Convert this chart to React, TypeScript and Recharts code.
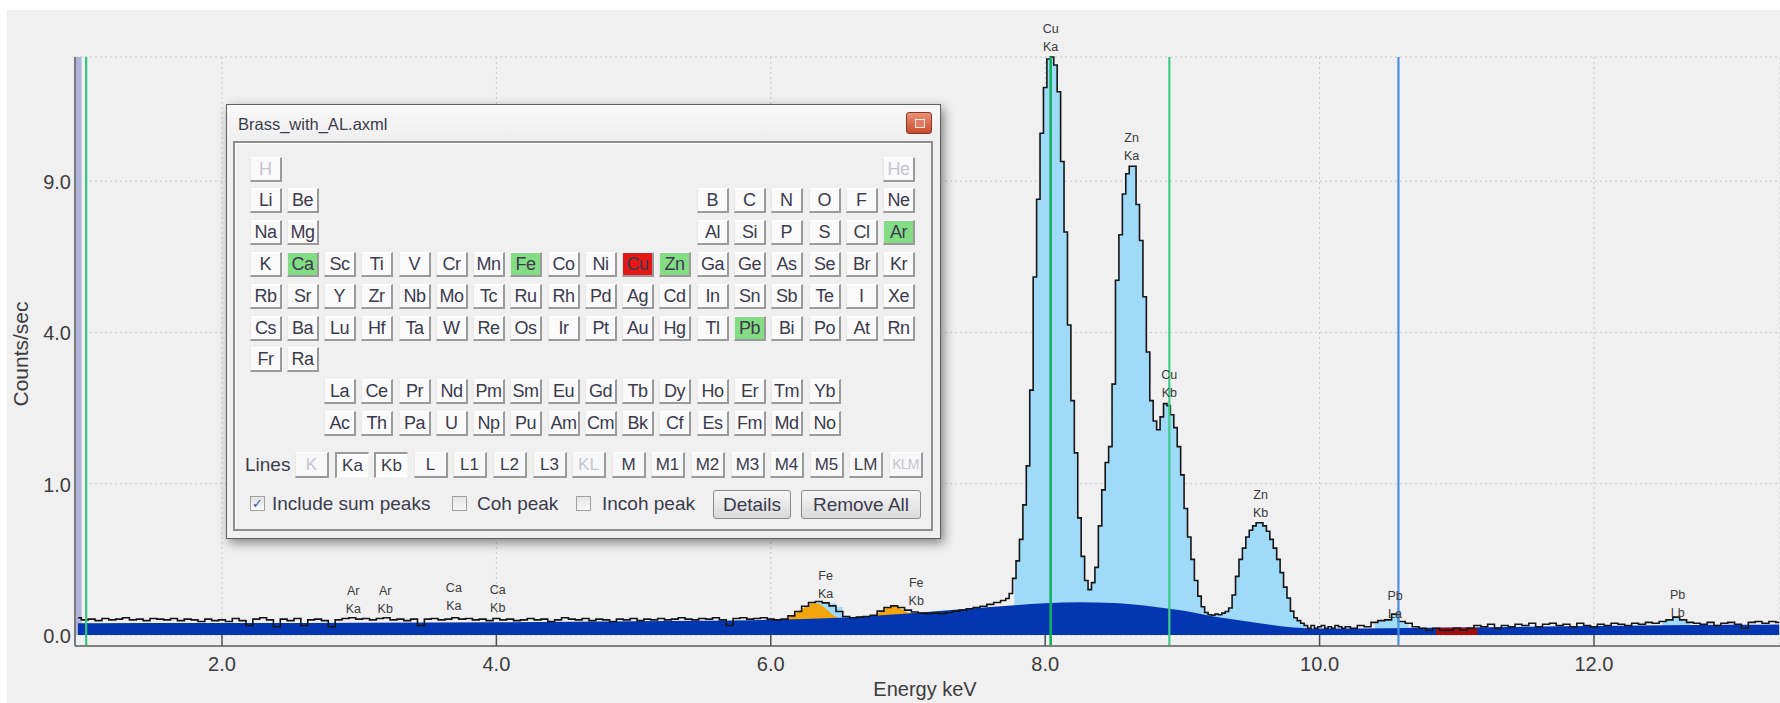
import React from "react";
import {
  Area,
  CartesianGrid,
  ComposedChart,
  Line,
  ReferenceArea,
  ReferenceLine,
  Scatter,
  XAxis,
  YAxis,
} from "recharts";

const lowStart = 0.95;
const lowStep = 0.05;
const lowCounts = [
  0.013, 0.010, 0.011, 0.009, 0.012, 0.010, 0.011, 0.013, 0.010, 0.011,
  0.009, 0.012, 0.011, 0.010, 0.012, 0.009, 0.011, 0.010, 0.008, 0.011,
  0.009, 0.010, 0.008, 0.012, 0.009, 0.004, 0.011, 0.013, 0.010, 0.003,
  0.011, 0.009, 0.012, 0.004, 0.010, 0.011, 0.009, 0.003, 0.010, 0.012,
  0.013, 0.011, 0.012, 0.010, 0.012, 0.013, 0.010, 0.011, 0.009, 0.011,
  0.004, 0.011, 0.012, 0.010, 0.011, 0.013, 0.011, 0.012, 0.010, 0.011,
  0.009, 0.012, 0.010, 0.011, 0.009, 0.010, 0.012, 0.010, 0.011, 0.008,
  0.010, 0.013, 0.011, 0.010, 0.012, 0.009, 0.011, 0.010, 0.008, 0.011,
  0.010, 0.012, 0.009, 0.011, 0.010, 0.012, 0.010, 0.011, 0.013, 0.011,
  0.010, 0.012, 0.011, 0.013, 0.010, 0.004, 0.012, 0.013, 0.011, 0.012,
  0.013, 0.011, 0.010, 0.011, 0.016, 0.024, 0.036, 0.046, 0.049, 0.045,
  0.037, 0.024, 0.015, 0.013, 0.014, 0.015, 0.017, 0.025, 0.033, 0.037,
  0.033, 0.027, 0.023, 0.021, 0.020, 0.021, 0.020, 0.022, 0.025, 0.027,
  0.030, 0.033, 0.036, 0.041, 0.046,
];

const peakStart = 7.7;
const peakStep = 0.025;
const peakCounts = [
  0.052, 0.058, 0.075, 0.14, 0.24, 0.40, 0.74, 1.25, 2.62, 5.6,
  8.3, 11.0, 13.1, 14.5, 14.6, 14.2, 12.9, 9.8, 7.1, 4.2,
  2.4, 1.45, 0.60, 0.27, 0.13, 0.09, 0.12, 0.20, 0.52, 0.92,
  1.30, 1.55, 2.75, 5.5, 7.0, 8.5, 9.3, 9.6, 9.6, 8.1,
  6.8, 5.0, 3.5, 2.4, 2.0, 1.84, 2.08, 2.34, 2.30, 2.12,
  1.88, 1.55, 1.12, 0.70, 0.42, 0.25, 0.13, 0.066, 0.035, 0.022,
  0.018, 0.017, 0.019, 0.018, 0.021, 0.024, 0.032, 0.07, 0.15, 0.25,
  0.33, 0.42, 0.48, 0.52, 0.55, 0.55, 0.52, 0.47, 0.40, 0.33,
  0.25, 0.17, 0.10, 0.06, 0.025, 0.013, 0.009, 0.006, 0.004, 0.002,
  0.004, 0.002, 0.003, 0.004, 0.002, 0.003, 0.002, 0.004, 0.003, 0.002,
];

const highStart = 10.2;
const highStep = 0.05;
const highCounts = [
  0.003, 0.002, 0.004, 0.003, 0.007, 0.009, 0.010, 0.019, 0.008, 0.006,
  0.003, 0.002, 0.001, 0.002, 0.001, 0.001, 0.002, 0.001, 0.002, 0.004,
  0.003, 0.005, 0.002, 0.004, 0.003, 0.005, 0.004, 0.006, 0.003, 0.005,
  0.006, 0.004, 0.005, 0.003, 0.006, 0.004, 0.003, 0.005, 0.004, 0.006,
  0.005, 0.004, 0.006, 0.005, 0.007, 0.006, 0.008, 0.010, 0.014, 0.010,
  0.007, 0.006, 0.005, 0.007, 0.004, 0.006, 0.007, 0.005, 0.002, 0.007,
  0.008, 0.006, 0.008, 0.007,
];

// continuum background (dark blue)
const bgEnergy = [0.95, 2, 3, 4, 5, 6, 6.5, 7, 7.5, 7.75, 8, 8.25, 8.5, 8.75, 9, 9.25, 9.5, 9.75, 10, 10.5, 11, 12, 13, 13.35];
const bgCounts = [0.006, 0.0062, 0.0065, 0.007, 0.0082, 0.01, 0.013, 0.02, 0.032, 0.038, 0.044, 0.047, 0.045, 0.037, 0.026, 0.014, 0.0075, 0.003, 0.0018, 0.002, 0.0024, 0.0035, 0.0045, 0.0048];

// Fe K fitted peaks (orange)
const feKaEnergy = [6.1, 6.15, 6.2, 6.25, 6.3, 6.35, 6.4, 6.45, 6.5];
const feKaTop = [0.0106, 0.015, 0.024, 0.035, 0.045, 0.043, 0.031, 0.018, 0.012];
const feKbEnergy = [6.75, 6.8, 6.85, 6.9, 6.95, 7.0, 7.05];
const feKbTop = [0.016, 0.024, 0.033, 0.036, 0.03, 0.022, 0.02];

// fit envelope (light blue)
const fitFeEnergy = [6.2, 6.25, 6.3, 6.35, 6.4, 6.45, 6.5, 6.55];
const fitFeTop = [0.02, 0.032, 0.043, 0.046, 0.046, 0.044, 0.034, 0.016];
const fitWindows = [
  [7.775, 9.9],
  [10.4, 10.65],
  [12.5, 12.7],
];

// small residual component (dark red)
const redEnergy = [10.85, 10.9, 10.95, 11.0, 11.05, 11.1, 11.15];
const redTop = [0.0021, 0.0023, 0.0023, 0.0024, 0.0023, 0.0023, 0.0021];

// peak labels
const peakLabels = [
  { e: 2.957, v: 0.011, el: "Ar", line: "Ka" },
  { e: 3.19, v: 0.011, el: "Ar", line: "Kb" },
  { e: 3.69, v: 0.016, el: "Ca", line: "Ka" },
  { e: 4.01, v: 0.012, el: "Ca", line: "Kb" },
  { e: 6.4, v: 0.042, el: "Fe", line: "Ka" },
  { e: 7.06, v: 0.025, el: "Fe", line: "Kb" },
  { e: 8.04, v: 14.6, el: "Cu", line: "Ka" },
  { e: 8.63, v: 9.6, el: "Zn", line: "Ka" },
  { e: 8.905, v: 2.36, el: "Cu", line: "Kb" },
  { e: 9.57, v: 0.55, el: "Zn", line: "Kb" },
  { e: 10.55, v: 0.0053, el: "Pb", line: "La" },
  { e: 12.61, v: 0.0063, el: "Pb", line: "Lb" },
];

const xTicks = [2, 4, 6, 8, 10, 12];
const yTicks = [0, 1, 4, 9];

// periodic table dialog
const tableRows = [
  "H . . . . . . . . . . . . . . . . He",
  "Li Be . . . . . . . . . . B C N O F Ne",
  "Na Mg . . . . . . . . . . Al Si P S Cl Ar",
  "K Ca Sc Ti V Cr Mn Fe Co Ni Cu Zn Ga Ge As Se Br Kr",
  "Rb Sr Y Zr Nb Mo Tc Ru Rh Pd Ag Cd In Sn Sb Te I Xe",
  "Cs Ba Lu Hf Ta W Re Os Ir Pt Au Hg Tl Pb Bi Po At Rn",
  "Fr Ra",
  ". . La Ce Pr Nd Pm Sm Eu Gd Tb Dy Ho Er Tm Yb",
  ". . Ac Th Pa U Np Pu Am Cm Bk Cf Es Fm Md No",
];
const greenElements = ["Ca", "Fe", "Zn", "Ar", "Pb"];
const redElements = ["Cu"];
const disabledElements = ["H", "He"];
const lineButtons = ["K", "Ka", "Kb", "L", "L1", "L2", "L3", "KL", "M", "M1", "M2", "M3", "M4", "M5", "LM", "KLM"];
const pressedLines = ["Ka", "Kb"];
const disabledLines = ["K", "KL", "KLM"];

const key = (e: number) => e.toFixed(3);

function buildRows() {
  const map = new Map<string, any>();
  const put = (e: number, k: string, v: number) => {
    const id = key(e);
    const row = map.get(id) ?? { e: Number(id) };
    row[k] = v;
    map.set(id, row);
  };
  lowCounts.forEach((v, i) => put(lowStart + i * lowStep, "counts", v));
  peakCounts.forEach((v, i) => put(peakStart + i * peakStep, "counts", v));
  highCounts.forEach((v, i) => put(highStart + i * highStep, "counts", v));
  bgEnergy.forEach((e, i) => put(e, "bg", bgCounts[i]));
  feKaEnergy.forEach((e, i) => put(e, "fe", feKaTop[i]));
  feKbEnergy.forEach((e, i) => put(e, "fe", feKbTop[i]));
  fitFeEnergy.forEach((e, i) => put(e, "fit", fitFeTop[i]));
  redEnergy.forEach((e, i) => put(e, "red", redTop[i]));
  const rows = Array.from(map.values()).sort((a, b) => a.e - b.e);
  rows.forEach((r) => {
    if (r.counts == null) return;
    if (fitWindows.some(([a, b]) => r.e >= a - 1e-6 && r.e <= b + 1e-6)) r.fit = r.counts;
  });
  return rows;
}

const chartData = buildRows();

const FONT = '"Liberation Sans", Arial, sans-serif';
const AXIS_TEXT = "#3c3c3c";

const XTick = (props: any) => {
  const { x, y, payload } = props;
  return (
    <g>
      <line x1={x} x2={x} y1={y - 11} y2={y} stroke="#505050" strokeWidth={1.5} />
      <text x={x} y={y + 25} textAnchor="middle" fontSize={20} fill={AXIS_TEXT} fontFamily={FONT}>
        {Number(payload.value).toFixed(1)}
      </text>
    </g>
  );
};

const YTick = (props: any) => {
  const { x, y, payload } = props;
  return (
    <text x={x - 4} y={y + 8} textAnchor="end" fontSize={20} fill={AXIS_TEXT} fontFamily={FONT}>
      {Number(payload.value).toFixed(1)}
    </text>
  );
};

const PeakLabel = (props: any) => {
  const { cx, cy, payload } = props;
  return (
    <g fontFamily={FONT} fontSize={12.5} fill="#3a3a3a" textAnchor="middle">
      <text x={cx} y={cy - 24}>{payload.el}</text>
      <text x={cx} y={cy - 6}>{payload.line}</text>
    </g>
  );
};

const DLG = { textColor: "#3b3b4c", font: FONT };

function elementButton(sym: string, left: number, top: number) {
  const green = greenElements.includes(sym);
  const red = redElements.includes(sym);
  const disabled = disabledElements.includes(sym);
  return (
    <div
      key={sym}
      style={{
        position: "absolute",
        left,
        top,
        width: 32,
        height: 25,
        boxSizing: "border-box",
        background: red ? "#e51616" : green ? "#84dc84" : "#fafafa",
        borderTop: "1px solid #ffffff",
        borderLeft: "1px solid #e8e8e8",
        borderRight: "2px solid #9a9a9a",
        borderBottom: "2px solid #9a9a9a",
        color: disabled ? "#c4c4d0" : DLG.textColor,
        fontFamily: DLG.font,
        fontSize: 18,
        lineHeight: "22px",
        letterSpacing: sym.length > 1 ? -0.5 : 0,
        textAlign: "center",
        whiteSpace: "nowrap",
        overflow: "hidden",
      }}
    >
      {sym}
    </div>
  );
}

function PeriodicDialog() {
  const buttons: React.ReactNode[] = [];
  tableRows.forEach((row, r) => {
    row.split(" ").forEach((sym, c) => {
      if (sym === ".") return;
      const cx = 265.6 + 37.26 * c;
      const cy = 169.1 + 31.8 * r;
      buttons.push(elementButton(sym, Math.round(cx - 16), Math.round(cy - 12.5)));
    });
  });
  const lines = lineButtons.map((name, i) => {
    const pressed = pressedLines.includes(name);
    const disabled = disabledLines.includes(name);
    return (
      <div
        key={"ln" + name}
        style={{
          position: "absolute",
          left: Math.round(295 + 39.6 * i),
          top: 452,
          width: 34,
          height: 26,
          boxSizing: "border-box",
          background: pressed ? "#fdfdfd" : "#f8f8f8",
          borderTop: pressed ? "2px solid #9a9a9a" : "1px solid #ffffff",
          borderLeft: pressed ? "2px solid #9a9a9a" : "1px solid #e8e8e8",
          borderRight: pressed ? "1px solid #f4f4f4" : "2px solid #9a9a9a",
          borderBottom: pressed ? "1px solid #f4f4f4" : "2px solid #9a9a9a",
          color: disabled ? "#c4c4d0" : DLG.textColor,
          fontFamily: DLG.font,
          fontSize: name.length > 2 ? 14 : 17,
          lineHeight: "23px",
          letterSpacing: name.length > 2 ? -0.8 : 0,
          textAlign: "center",
          whiteSpace: "nowrap",
          overflow: "hidden",
        }}
      >
        {name}
      </div>
    );
  });
  const text = (s: string, left: number, cy: number, size = 19) => (
    <div
      key={"t" + s}
      style={{
        position: "absolute",
        left,
        top: cy - 12,
        height: 24,
        lineHeight: "24px",
        fontFamily: DLG.font,
        fontSize: size,
        color: DLG.textColor,
        whiteSpace: "nowrap",
      }}
    >
      {s}
    </div>
  );
  const checkbox = (left: number, checked: boolean) => (
    <div
      key={"cb" + left}
      style={{
        position: "absolute",
        left,
        top: 496,
        width: 15,
        height: 15,
        boxSizing: "border-box",
        border: "1px solid #a0a0a0",
        background: "linear-gradient(#e4e4e4, #f8f8f8)",
        color: "#3552a8",
        fontSize: 13,
        lineHeight: "13px",
        textAlign: "center",
        fontFamily: '"DejaVu Sans", sans-serif',
      }}
    >
      {checked ? "✓" : ""}
    </div>
  );
  const pushButton = (s: string, left: number, width: number) => (
    <div
      key={"pb" + s}
      style={{
        position: "absolute",
        left,
        top: 490,
        width,
        height: 29,
        boxSizing: "border-box",
        border: "1px solid #8a8a8a",
        borderRadius: 3,
        background: "linear-gradient(#f6f6f6, #dadada)",
        fontFamily: DLG.font,
        fontSize: 19,
        lineHeight: "27px",
        textAlign: "center",
        color: DLG.textColor,
        whiteSpace: "nowrap",
      }}
    >
      {s}
    </div>
  );
  return (
    <>
      <div
        style={{
          position: "absolute",
          left: 226,
          top: 104,
          width: 715,
          height: 435,
          boxSizing: "border-box",
          border: "1px solid #5f5f5f",
          background: "linear-gradient(#f8f8f8 0px, #efefef 36px, #f0f0f0 100%)",
          boxShadow: "3px 4px 10px rgba(0,0,0,0.45)",
        }}
      />
      {text("Brass_with_AL.axml", 238, 124, 16.5)}
      <div
        style={{
          position: "absolute",
          left: 906,
          top: 112,
          width: 26,
          height: 22,
          boxSizing: "border-box",
          borderRadius: 3,
          border: "1px solid #8e3524",
          background: "linear-gradient(#ea9277, #c94a2e)",
        }}
      >
        <div
          style={{
            position: "absolute",
            left: 8,
            top: 6,
            width: 8,
            height: 7,
            border: "1px solid #f4e6e0",
            background: "#e07a60",
          }}
        />
      </div>
      <div
        style={{
          position: "absolute",
          left: 233,
          top: 141,
          width: 700,
          height: 390,
          boxSizing: "border-box",
          border: "2px solid #8c8c8c",
          boxShadow: "inset 1px 1px 0 #ffffff",
          background: "#f0f0f0",
        }}
      />
      {buttons}
      {text("Lines", 245, 465)}
      {lines}
      {checkbox(250, true)}
      {text("Include sum peaks", 272, 504)}
      {checkbox(452, false)}
      {text("Coh peak", 477, 504)}
      {checkbox(576, false)}
      {text("Incoh peak", 602, 504)}
      {pushButton("Details", 713, 78)}
      {pushButton("Remove All", 801, 120)}
    </>
  );
}

export default function App() {
  return (
    <div style={{ position: "absolute", left: 0, top: 0, width: 1780, height: 703, background: "#ffffff", overflow: "hidden" }}>
      <div style={{ position: "absolute", left: 7, top: 10, right: 0, bottom: 0, background: "#f0f0f0" }} />
      <div style={{ position: "absolute", left: 0, top: 0 }}>
        <ComposedChart
          width={1780}
          height={703}
          data={chartData}
          margin={{ top: 57, right: 0, bottom: 0, left: 0 }}
        >
          <CartesianGrid stroke="#c6c6c6" strokeDasharray="2 3" />
          <XAxis
            type="number"
            dataKey="e"
            domain={[0.9286, 13.356]}
            ticks={xTicks}
            interval={0}
            height={57}
            tickSize={0}
            tickMargin={0}
            tick={<XTick />}
            axisLine={{ stroke: "#808080", strokeWidth: 2 }}
          />
          <YAxis
            type="number"
            scale="sqrt"
            domain={[0, 14.6]}
            ticks={yTicks}
            interval={0}
            width={75}
            padding={{ top: 0, bottom: 11 }}
            tickSize={0}
            tickMargin={0}
            tick={<YTick />}
            axisLine={{ stroke: "#7a7a7a", strokeWidth: 2 }}
          />
          <ReferenceArea x1={0.9286} x2={0.976} fill="#b1b3dd" fillOpacity={1} stroke="none" />
          <Area
            dataKey="fit"
            type="step"
            fill="#9fdbf8"
            fillOpacity={1}
            stroke="none"
            isAnimationActive={false}
            connectNulls={false}
          />
          <Area
            dataKey="fe"
            type="linear"
            fill="#f3a50e"
            fillOpacity={1}
            stroke="none"
            isAnimationActive={false}
            connectNulls={false}
          />
          <Area
            dataKey="bg"
            type="monotone"
            fill="#0436b2"
            fillOpacity={1}
            stroke="none"
            isAnimationActive={false}
            connectNulls
          />
          <Area
            dataKey="red"
            type="linear"
            fill="#a40c0c"
            fillOpacity={1}
            stroke="none"
            isAnimationActive={false}
            connectNulls={false}
          />
          <Line
            dataKey="counts"
            type="step"
            stroke="#151515"
            strokeWidth={1.6}
            dot={false}
            isAnimationActive={false}
            connectNulls
          />
          <ReferenceLine x={1.01} stroke="#2fc77e" strokeWidth={2.2} />
          <ReferenceLine x={8.04} stroke="#12b05e" strokeWidth={2.6} />
          <ReferenceLine x={8.905} stroke="#3fca8a" strokeWidth={2.2} />
          <ReferenceLine x={10.575} stroke="#4a8fe0" strokeWidth={2.2} />
          <Scatter data={peakLabels} dataKey="v" shape={<PeakLabel />} isAnimationActive={false} />
        </ComposedChart>
      </div>
      <div
        style={{
          position: "absolute",
          left: 21,
          top: 354,
          transform: "translate(-50%, -50%) rotate(-90deg)",
          fontFamily: FONT,
          fontSize: 21,
          color: AXIS_TEXT,
          whiteSpace: "nowrap",
        }}
      >
        Counts/sec
      </div>
      <div
        style={{
          position: "absolute",
          left: 925,
          top: 689,
          transform: "translate(-50%, -50%)",
          fontFamily: FONT,
          fontSize: 20,
          color: AXIS_TEXT,
          whiteSpace: "nowrap",
        }}
      >
        Energy keV
      </div>
      <PeriodicDialog />
    </div>
  );
}
